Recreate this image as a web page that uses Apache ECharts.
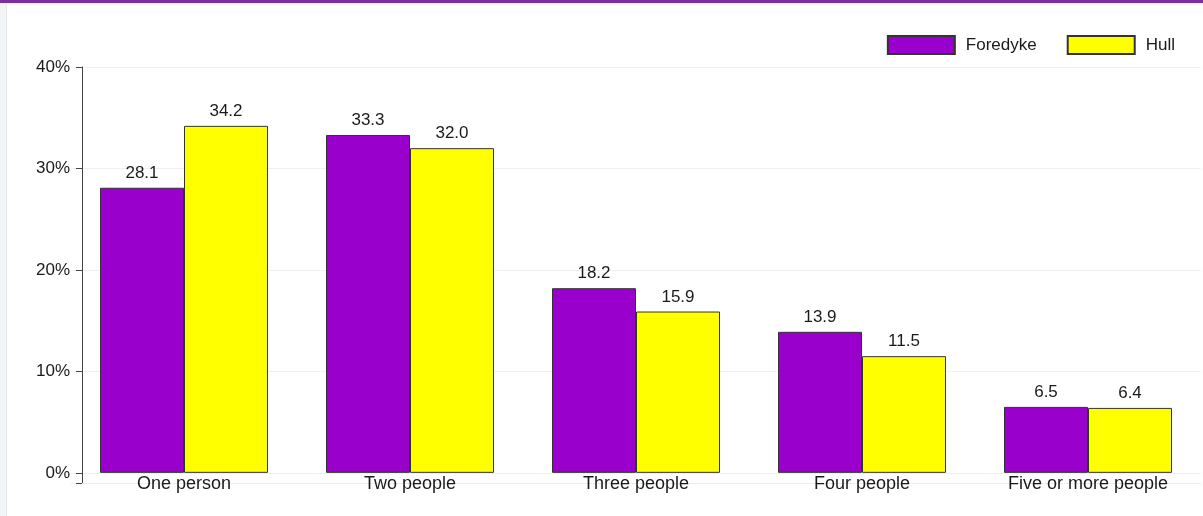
<!DOCTYPE html>
<html>
<head>
<meta charset="utf-8">
<script src="https://cdn.jsdelivr.net/npm/echarts@6/dist/echarts.min.js"></script>
<style>
  html, body { margin: 0; padding: 0; width: 1203px; height: 516px; overflow: hidden; background: #f3f4f5; }
  #topbar { position: absolute; left: 0; top: 0; width: 1203px; height: 3px; background: #7b2fa3; }
  #panel { position: absolute; left: 6px; top: 5px; width: 1197px; height: 511px; background: #ffffff; border-left: 1px solid #e4e7ea; }
  #chart { position: absolute; left: 0; top: 0; width: 1203px; height: 516px; }
</style>
</head>
<body>
<div id="topbar"></div>
<div id="panel"></div>
<div id="chart"></div>
<script>
const categories = ['One person', 'Two people', 'Three people', 'Four people', 'Five or more people'];
const seriesNames = ['Foredyke', 'Hull'];
const foredyke = [28.1, 33.3, 18.2, 13.9, 6.5];
const hull = [34.2, 32.0, 15.9, 11.5, 6.4];
const colors = ['#9900cc', '#ffff00'];

const font = 'Liberation Sans, Arial, sans-serif';
const chart = echarts.init(document.getElementById('chart'), null, { renderer: 'canvas' });

function barSeries(name, data, color) {
  return {
    name: name,
    type: 'bar',
    data: data,
    barWidth: 84,
    barGap: '0%',
    itemStyle: { color: color, borderColor: '#333333', borderWidth: 1 },
    label: {
      show: true,
      position: 'top',
      distance: 6,
      formatter: p => p.value.toFixed(1),
      color: '#1a1a1a',
      fontFamily: font,
      fontSize: 17
    }
  };
}

chart.setOption({
  backgroundColor: 'transparent',
  animation: false,
  textStyle: { fontFamily: font },
  legend: {
    right: 23,
    top: 30,
    itemWidth: 67,
    itemHeight: 18,
    itemGap: 30,
    icon: 'rect',
    data: seriesNames,
    textStyle: { fontFamily: font, fontSize: 17, color: '#1a1a1a', padding: [0, 0, 0, 6] }
  },
  grid: { left: 71, right: 2, top: 67, bottom: 33, containLabel: false },
  xAxis: {
    type: 'category',
    data: categories,
    axisLine: { show: true, onZero: false, lineStyle: { color: '#e8edf1', width: 1 } },
    axisTick: { show: false },
    axisLabel: { color: '#1a1a1a', fontFamily: font, fontSize: 18, margin: -8, interval: 0 },
    splitLine: { show: false }
  },
  yAxis: {
    type: 'value',
    min: -1,
    max: 40,
    offset: -11,
    splitNumber: 4,
    axisLine: { show: true, lineStyle: { color: '#444444', width: 1 } },
    axisTick: { show: true, length: 6, lineStyle: { color: '#444444' } },
    axisLabel: {
      color: '#1a1a1a',
      fontFamily: font,
      fontSize: 17,
      margin: 12,
      formatter: v => (v < 0 ? '' : v + '%')
    },
    splitLine: { show: true, lineStyle: { color: '#eef1f4', width: 1 } }
  },
  series: [
    barSeries(seriesNames[0], foredyke, colors[0]),
    barSeries(seriesNames[1], hull, colors[1])
  ]
});
</script>
</body>
</html>
